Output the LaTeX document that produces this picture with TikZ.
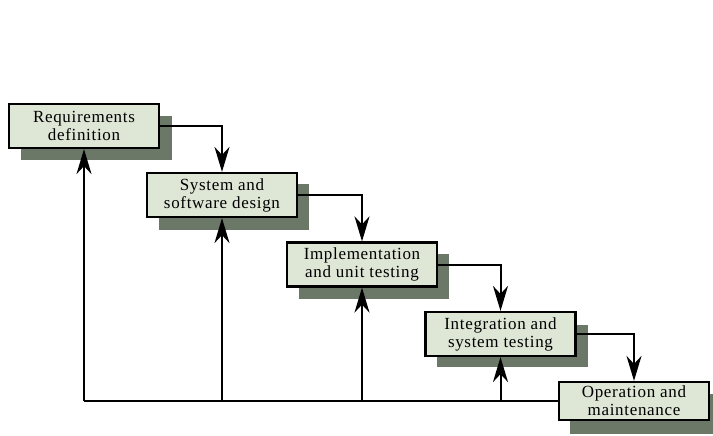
\documentclass[tikz,border=0pt]{standalone}
\usepackage{fontspec}
\setmainfont{Liberation Serif}[LetterSpace=4]
\usetikzlibrary{arrows.meta}
\definecolor{boxfill}{HTML}{DEE6D6}
\definecolor{shadowc}{HTML}{6B7868}
\begin{document}
\begin{tikzpicture}[x=1pt,y=-1pt,
  stagebox/.style={draw=black,line width=2.2pt,fill=boxfill,align=center,
    minimum width=150pt,minimum height=44pt,inner sep=0pt,
    font=\fontsize{17}{18}\selectfont},
  flow/.style={line width=2pt,-{Stealth[length=25pt,width=15pt,inset=8pt]}},
  plain/.style={line width=2pt}]
\useasboundingbox (0,0) rectangle (713,436);
\fill[white] (0,0) rectangle (713,436);
% shadows
\fill[shadowc] (21,116) rectangle (172,160);
\fill[shadowc] (159,184) rectangle (309,230);
\fill[shadowc] (299,254) rectangle (449,299);
\fill[shadowc] (437,325) rectangle (588,367);
\fill[shadowc] (570,394) rectangle (722,434);
% boxes
\node[stagebox] (b1) at (84,126) {Requirements\\definition};
\node[stagebox] (b2) at (222,195) {System and\\software design};
\node[stagebox] (b3) at (362,264.5) {Implementation\\and unit testing};
\node[stagebox] (b4) at (500.5,334) {Integration and\\system testing};
\node[stagebox,minimum height=38pt] (b5) at (634,401) {Operation and\\maintenance};
% forward flow
\draw[flow] (b1.east) -| (b2.north);
\draw[flow] (b2.east) -| (b3.north);
\draw[flow] (b3.east) -| (b4.north);
\draw[flow] (b4.east) -| (b5.north);
% feedback
\coordinate (f1) at (b1.south |- b5.west);
\coordinate (f2) at (b2.south |- b5.west);
\coordinate (f3) at (b3.south |- b5.west);
\coordinate (f4) at (b4.south |- b5.west);
\draw[plain] (b5.west) -- (f1);
\draw[flow] (f1) -- (b1.south);
\draw[flow] (f2) -- (b2.south);
\draw[flow] (f3) -- (b3.south);
\draw[flow] (f4) -- (b4.south);
\end{tikzpicture}
\end{document}
